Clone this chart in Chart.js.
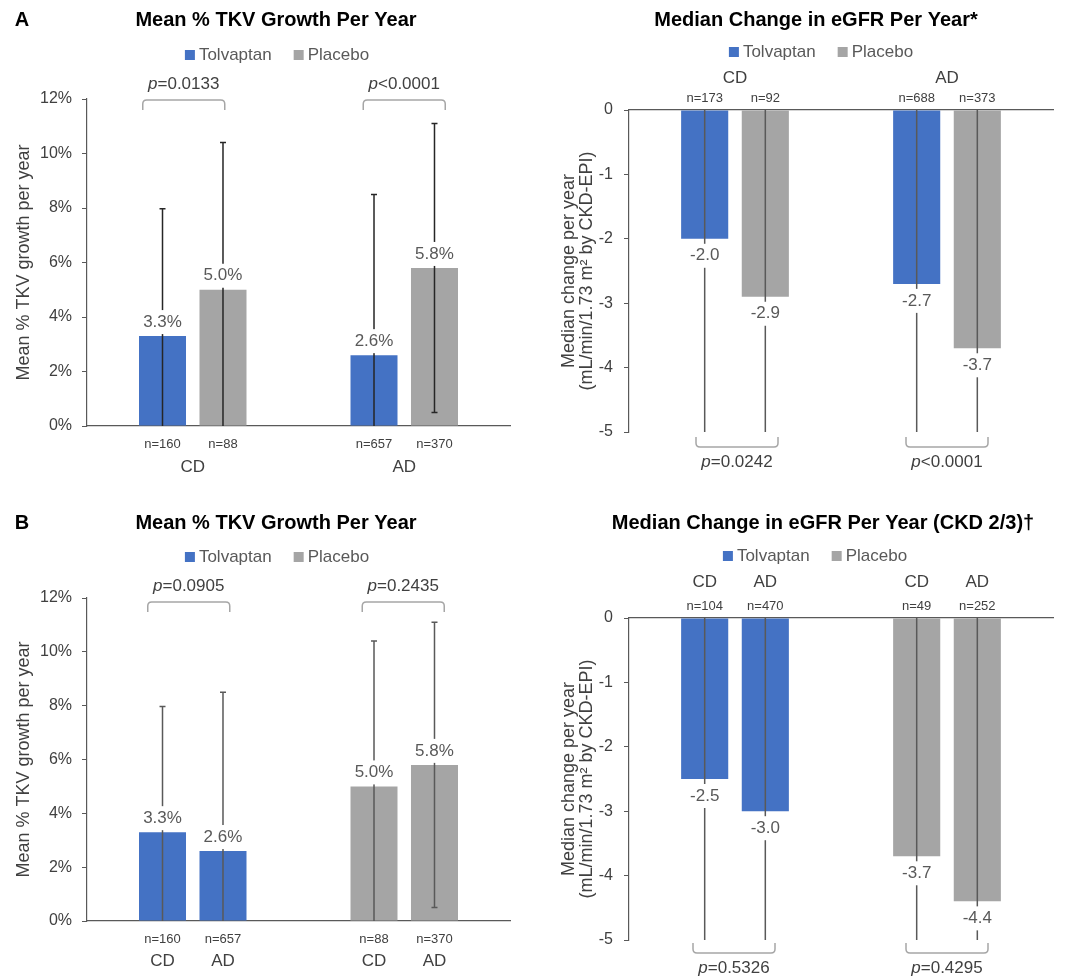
<!DOCTYPE html>
<html>
<head>
<meta charset="utf-8">
<title>TKV growth and eGFR change</title>
<script src="https://cdn.jsdelivr.net/npm/chart.js@4.4.1/dist/chart.umd.min.js"></script>
<style>
  body { margin: 0; background: #fff; }
  canvas { position: absolute; }
</style>
</head>
<body>
<canvas id="tkv-a" width="536" height="490" style="left:0;top:0"></canvas>
<canvas id="egfr-a" width="536" height="490" style="left:536px;top:0"></canvas>
<canvas id="tkv-b" width="536" height="486" style="left:0;top:490px"></canvas>
<canvas id="egfr-b" width="536" height="486" style="left:536px;top:490px"></canvas>
<script>
// Serier og farger
const SERIES = ['Tolvaptan', 'Placebo'];
const BLUE = '#4472C4';
const GRAY = '#A5A5A5';
const FONT = '"Liberation Sans", Arial, sans-serif';

// A: Mean % TKV growth per year
const tkvCategories = ['CD', 'AD'];
const tkvTolvaptan = [3.3, 2.6];
const tkvPlacebo = [5.0, 5.8];
const tkvTolvaptanN = [160, 657];
const tkvPlaceboN = [88, 370];
const tkvTolvaptanHigh = [7.97, 8.5];
const tkvTolvaptanLow = [0, 0];
const tkvPlaceboHigh = [10.4, 11.1];
const tkvPlaceboLow = [0, 0.5];
const tkvPValues = ['=0.0133', '<0.0001'];
const tkvTicks = [0, 2, 4, 6, 8, 10, 12];

// A: Median change in eGFR per year
const egfrCategories = ['CD', 'AD'];
const egfrTolvaptan = [-2.0, -2.7];
const egfrPlacebo = [-2.9, -3.7];
const egfrTolvaptanN = [173, 688];
const egfrPlaceboN = [92, 373];
const egfrHigh = [0, 0];
const egfrLow = [-5, -5];
const egfrPValues = ['=0.0242', '<0.0001'];
const egfrTicks = [-5, -4, -3, -2, -1, 0];

// B: Mean % TKV growth per year, grouped by treatment
const tkvBGroups = ['Tolvaptan', 'Placebo'];
const tkvBCD = [3.3, 5.0];
const tkvBAD = [2.6, 5.8];
const tkvBCDN = [160, 88];
const tkvBADN = [657, 370];
const tkvBCDHigh = [7.97, 10.4];
const tkvBCDLow = [0, 0];
const tkvBADHigh = [8.5, 11.1];
const tkvBADLow = [0, 0.5];
const tkvBPValues = ['=0.0905', '=0.2435'];

// B: Median change in eGFR per year (CKD 2/3)
const egfrBGroups = ['Tolvaptan', 'Placebo'];
const egfrBCD = [-2.5, -3.7];
const egfrBAD = [-3.0, -4.4];
const egfrBCDN = [104, 49];
const egfrBADN = [470, 252];
const egfrBPValues = ['=0.5326', '=0.4295'];

function font(size, weight, style) {
    return `${style || 'normal'} ${weight || 'normal'} ${size}px ${FONT}`;
}

function drawPValue(ctx, x, y, rest) {
    ctx.font = font(17, 'normal', 'italic');
    const wp = ctx.measureText('p').width;
    ctx.font = font(17);
    const wr = ctx.measureText(rest).width;
    const start = x - (wp + wr) / 2;
    ctx.fillStyle = '#404040';
    ctx.textAlign = 'left';
    ctx.textBaseline = 'middle';
    ctx.font = font(17, 'normal', 'italic');
    ctx.fillText('p', start, y);
    ctx.font = font(17);
    ctx.fillText(rest, start + wp, y);
}

function drawBracket(ctx, x1, x2, y, dir) {
    // dir = 1: ends point down (bracket above), dir = -1: ends point up
    const r = 4, h = 10 * dir;
    ctx.save();
    ctx.strokeStyle = '#A6A6A6';
    ctx.lineWidth = 1.5;
    ctx.beginPath();
    ctx.moveTo(x1, y + h);
    ctx.lineTo(x1, y + r * dir);
    ctx.quadraticCurveTo(x1, y, x1 + r, y);
    ctx.lineTo(x2 - r, y);
    ctx.quadraticCurveTo(x2, y, x2, y + r * dir);
    ctx.lineTo(x2, y + h);
    ctx.stroke();
    ctx.restore();
}

// Tegner tittel, forklaring, feilstolper, etiketter og p-verdier
const annotatePlugin = {
    id: 'annotate',
    afterDatasetsDraw(chart, args, opts) {
        const { ctx, chartArea } = chart;
        const xScale = chart.scales.x;
        const yScale = chart.scales.y;
        ctx.save();

        // panelbokstav og tittel
        ctx.fillStyle = '#000';
        ctx.textBaseline = 'middle';
        if (opts.letter) {
            ctx.font = font(20, 'bold');
            ctx.textAlign = 'center';
            ctx.fillText(opts.letter, 22, opts.titleY);
        }
        ctx.font = font(20, 'bold');
        ctx.textAlign = 'center';
        ctx.fillText(opts.title, opts.titleX, opts.titleY);

        // forklaring
        ctx.font = font(17);
        const items = SERIES.map((s, i) => ({ text: s, color: i === 0 ? BLUE : GRAY, w: ctx.measureText(s).width }));
        const total = items.reduce((a, it) => a + 10 + 4 + it.w, 0) + 22;
        let lx = opts.legendX - total / 2;
        items.forEach(it => {
            ctx.fillStyle = it.color;
            ctx.fillRect(lx, opts.legendY - 5, 10, 10);
            ctx.fillStyle = '#595959';
            ctx.textAlign = 'left';
            ctx.fillText(it.text, lx + 14, opts.legendY);
            lx += 14 + it.w + 22;
        });

        const positive = yScale.max > 0;
        const axisY = positive ? chartArea.bottom : chartArea.top;

        chart.data.datasets.forEach((ds, di) => {
            const meta = chart.getDatasetMeta(di);
            meta.data.forEach((bar, i) => {
                const x = bar.x;
                // feilstolpe
                const lo = ds.errLow[i], hi = ds.errHigh[i];
                const yHi = yScale.getPixelForValue(Math.min(hi, yScale.max));
                const yLo = yScale.getPixelForValue(Math.max(lo, yScale.min));
                ctx.strokeStyle = opts.errColor;
                ctx.lineWidth = 1.5;
                ctx.beginPath();
                ctx.moveTo(x, yHi);
                ctx.lineTo(x, yLo);
                if (hi < yScale.max && hi > 0) {
                    ctx.moveTo(x - 3, yHi);
                    ctx.lineTo(x + 3, yHi);
                }
                if (lo > yScale.min && lo > 0) {
                    ctx.moveTo(x - 3, yLo);
                    ctx.lineTo(x + 3, yLo);
                }
                ctx.stroke();

                // verdietikett med hvit bakgrunn
                const v = ds.data[i];
                const text = positive ? v.toFixed(1) + '%' : v.toFixed(1);
                ctx.font = font(17);
                const tw = ctx.measureText(text).width;
                const ty = positive ? bar.y - 14 : bar.y + 17;
                ctx.fillStyle = '#fff';
                ctx.fillRect(x - tw / 2 - 2, ty - 12, tw + 4, 24);
                ctx.fillStyle = '#595959';
                ctx.textAlign = 'center';
                ctx.textBaseline = 'middle';
                ctx.fillText(text, x, ty);

                // n-etikett
                ctx.font = font(13);
                ctx.fillStyle = '#404040';
                ctx.fillText('n=' + ds.n[i], x, axisY + opts.nOffset);

                // kategori per stolpe
                if (ds.sub) {
                    ctx.font = font(17);
                    ctx.fillText(ds.sub, x, axisY + opts.catOffset);
                }
            });
        });

        // kategori per gruppe, klammer og p-verdier
        chart.data.labels.forEach((lab, i) => {
            const cx = xScale.getPixelForValue(i);
            if (opts.categoryLabels) {
                ctx.font = font(17);
                ctx.fillStyle = '#404040';
                ctx.textAlign = 'center';
                ctx.fillText(lab, cx, axisY + opts.catOffset);
            }
            const bc = cx + (opts.bracketShift ? opts.bracketShift[i] : 0);
            const bx1 = bc - 41, bx2 = bc + 41;
            if (positive) {
                drawBracket(ctx, bx1, bx2, opts.bracketY, 1);
                drawPValue(ctx, bc, opts.bracketY - 16, opts.pValues[i]);
            } else {
                drawBracket(ctx, bx1, bx2, opts.bracketY, -1);
                drawPValue(ctx, bc, opts.bracketY + 15, opts.pValues[i]);
            }
        });
        ctx.restore();
    }
};

function renderPanel(id, p) {
    const ctx = document.getElementById(id).getContext('2d');
    return new Chart(ctx, {
        type: 'bar',
        data: {
            labels: p.labels,
            datasets: p.series.map(s => ({
                label: s.name,
                data: s.values,
                backgroundColor: s.colors,
                errLow: s.low,
                errHigh: s.high,
                n: s.n,
                sub: s.sub,
                categoryPercentage: 0.572,
                barPercentage: 0.777
            }))
        },
        options: {
            responsive: false,
            animation: false,
            layout: { padding: p.padding },
            plugins: {
                legend: { display: false },
                title: { display: false },
                tooltip: { enabled: false },
                annotate: p.annotate
            },
            scales: {
                x: {
                    position: p.xPosition,
                    grid: { drawOnChartArea: false, drawTicks: false },
                    ticks: { display: false },
                    border: { color: '#595959', width: 1.2 },
                    afterFit: s => { s.height = 0; }
                },
                y: {
                    min: p.ticks[0],
                    max: p.ticks[p.ticks.length - 1],
                    afterBuildTicks: s => { s.ticks = p.ticks.map(v => ({ value: v })); },
                    ticks: {
                        padding: p.tickPadding,
                        color: '#404040',
                        font: { family: FONT, size: 16 },
                        callback: p.tickFormat
                    },
                    grid: { drawOnChartArea: false, tickLength: 5, color: '#595959' },
                    border: { color: '#595959', width: 1.2 },
                    title: {
                        display: true,
                        text: p.yTitle,
                        color: '#404040',
                        font: { family: FONT, size: 18, lineHeight: 1.0 },
                        padding: { top: p.yTitlePad, bottom: 0 }
                    },
                    afterFit: s => { s.width = p.yWidth; }
                }
            }
        },
        plugins: [annotatePlugin]
    });
}

renderPanel('tkv-a', {
    labels: tkvCategories,
    series: [
        { name: SERIES[0], values: tkvTolvaptan, colors: BLUE, low: tkvTolvaptanLow, high: tkvTolvaptanHigh, n: tkvTolvaptanN },
        { name: SERIES[1], values: tkvPlacebo, colors: GRAY, low: tkvPlaceboLow, high: tkvPlaceboHigh, n: tkvPlaceboN }
    ],
    ticks: tkvTicks,
    tickFormat: v => v + '%',
    tickPadding: 10,
    yTitle: 'Mean % TKV growth per year',
    yTitlePad: 15,
    yWidth: 87,
    xPosition: 'bottom',
    padding: { top: 99, bottom: 64, left: 0, right: 26 },
    annotate: {
        letter: 'A', title: 'Mean % TKV Growth Per Year', titleX: 276, titleY: 20,
        legendX: 277, legendY: 55, errColor: '#262626',
        nOffset: 18, catOffset: 41, categoryLabels: true,
        bracketY: 100, bracketShift: [-9, 0], pValues: tkvPValues
    }
});

renderPanel('egfr-a', {
    labels: egfrCategories,
    series: [
        { name: SERIES[0], values: egfrTolvaptan, colors: BLUE, low: egfrLow, high: egfrHigh, n: egfrTolvaptanN },
        { name: SERIES[1], values: egfrPlacebo, colors: GRAY, low: egfrLow, high: egfrHigh, n: egfrPlaceboN }
    ],
    ticks: egfrTicks,
    tickFormat: v => String(v),
    tickPadding: 11,
    yTitle: ['Median change per year', '(mL/min/1.73 m\u00B2 by CKD-EPI)'],
    yTitlePad: 24,
    yWidth: 93,
    xPosition: 'top',
    padding: { top: 110, bottom: 58, left: 0, right: 19 },
    annotate: {
        title: 'Median Change in eGFR Per Year*', titleX: 280, titleY: 20,
        legendX: 285, legendY: 52, errColor: '#595959',
        nOffset: -12, catOffset: -32, categoryLabels: true,
        bracketY: 447, bracketShift: [2, 0], pValues: egfrPValues
    }
});

renderPanel('tkv-b', {
    labels: tkvBGroups,
    series: [
        { name: 'CD', sub: 'CD', values: tkvBCD, colors: [BLUE, GRAY], low: tkvBCDLow, high: tkvBCDHigh, n: tkvBCDN },
        { name: 'AD', sub: 'AD', values: tkvBAD, colors: [BLUE, GRAY], low: tkvBADLow, high: tkvBADHigh, n: tkvBADN }
    ],
    ticks: tkvTicks,
    tickFormat: v => v + '%',
    tickPadding: 10,
    yTitle: 'Mean % TKV growth per year',
    yTitlePad: 15,
    yWidth: 87,
    xPosition: 'bottom',
    padding: { top: 108, bottom: 55, left: 0, right: 26 },
    annotate: {
        letter: 'B', title: 'Mean % TKV Growth Per Year', titleX: 276, titleY: 33,
        legendX: 277, legendY: 67, errColor: '#595959',
        nOffset: 18, catOffset: 40, categoryLabels: false,
        bracketY: 112, bracketShift: [-4, -1], pValues: tkvBPValues
    }
});

renderPanel('egfr-b', {
    labels: egfrBGroups,
    series: [
        { name: 'CD', sub: 'CD', values: egfrBCD, colors: [BLUE, GRAY], low: egfrLow, high: egfrHigh, n: egfrBCDN },
        { name: 'AD', sub: 'AD', values: egfrBAD, colors: [BLUE, GRAY], low: egfrLow, high: egfrHigh, n: egfrBADN }
    ],
    ticks: egfrTicks,
    tickFormat: v => String(v),
    tickPadding: 11,
    yTitle: ['Median change per year', '(mL/min/1.73 m\u00B2 by CKD-EPI)'],
    yTitlePad: 24,
    yWidth: 93,
    xPosition: 'top',
    padding: { top: 128, bottom: 36, left: 0, right: 19 },
    annotate: {
        title: 'Median Change in eGFR Per Year (CKD 2/3)\u2020', titleX: 287, titleY: 33,
        legendX: 279, legendY: 66, errColor: '#595959',
        nOffset: -12, catOffset: -36, categoryLabels: false,
        bracketY: 463, bracketShift: [-1, 0], pValues: egfrBPValues
    }
});
</script>
</body>
</html>
